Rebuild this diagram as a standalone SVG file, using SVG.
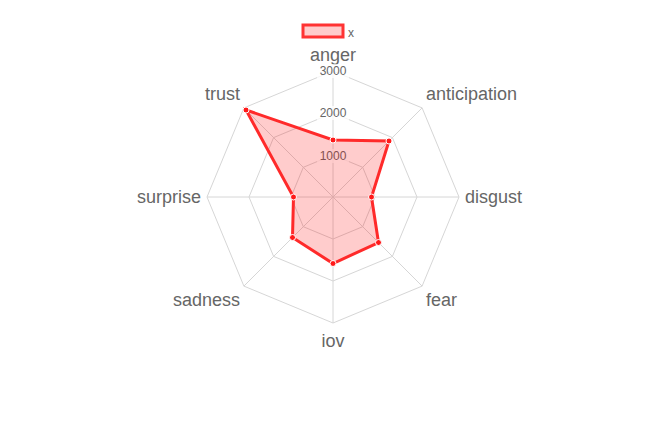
<svg xmlns="http://www.w3.org/2000/svg" width="664" height="447" viewBox="0 0 664 447">
<style>
.grid{fill:none;stroke:#d6d6d6;stroke-width:1}
.lbl{font-family:"Liberation Sans",Arial,sans-serif;font-size:18px;fill:#666}
.tick{font-family:"Liberation Sans",Arial,sans-serif;font-size:12px;fill:#666;text-anchor:middle}
.bd{fill:#fff;fill-opacity:0.75}
.pt{fill:#ff1a1a;stroke:#fff;stroke-width:1}
</style>
<rect width="664" height="447" fill="#fff"/>
<g id="legend">
<rect x="303" y="25" width="40" height="12" fill="#ffcccc" stroke="#ff3333" stroke-width="3"/>
<text x="348" y="37" font-family="Liberation Sans, Arial, sans-serif" font-size="12" fill="#666">x</text>
</g>
<g id="grid">
<polygon class="grid" points="333,71 422.1,107.9 459,197 422.1,286.1 333,323 243.9,286.1 207,197 243.9,107.9"/>
<polygon class="grid" points="333,113 392.4,137.6 417,197 392.4,256.4 333,281 273.6,256.4 249,197 273.6,137.6"/>
<polygon class="grid" points="333,155 362.7,167.3 375,197 362.7,226.7 333,239 303.3,226.7 291,197 303.3,167.3"/>
<path class="grid" d="M333,197L333,71M333,197L422.1,107.9M333,197L459,197M333,197L422.1,286.1M333,197L333,323M333,197L243.9,286.1M333,197L207,197M333,197L243.9,107.9"/>
</g>
<g id="axis-labels">
<text class="lbl" x="333" y="61" text-anchor="middle">anger</text>
<text class="lbl" x="426" y="100">anticipation</text>
<text class="lbl" x="465" y="203">disgust</text>
<text class="lbl" x="426" y="306">fear</text>
<text class="lbl" x="333" y="347" text-anchor="middle">iov</text>
<text class="lbl" x="240" y="306" text-anchor="end">sadness</text>
<text class="lbl" x="201" y="203" text-anchor="end">surprise</text>
<text class="lbl" x="240" y="100" text-anchor="end">trust</text>
</g>
<g id="ticks">
<rect class="bd" x="317" y="149" width="32" height="14"/>
<text class="tick" x="333" y="160">1000</text>
<rect class="bd" x="317" y="106" width="32" height="14"/>
<text class="tick" x="333" y="117">2000</text>
<rect class="bd" x="317" y="64" width="32" height="14"/>
<text class="tick" x="333" y="75">3000</text>
</g>
<g id="series-x">
<polygon points="333,140 389,141 371.5,197 378.5,242.5 333,263.5 292.5,237.5 293.5,197 246,110" fill="#ff0000" fill-opacity="0.2" stroke="#ff2a2a" stroke-width="3" stroke-linejoin="miter"/>
<circle class="pt" cx="333" cy="140" r="3"/>
<circle class="pt" cx="389" cy="141" r="3"/>
<circle class="pt" cx="371.5" cy="197" r="3"/>
<circle class="pt" cx="378.5" cy="242.5" r="3"/>
<circle class="pt" cx="333" cy="263.5" r="3"/>
<circle class="pt" cx="292.5" cy="237.5" r="3"/>
<circle class="pt" cx="293.5" cy="197" r="3"/>
<circle class="pt" cx="246" cy="110" r="3"/>
</g>
</svg>
